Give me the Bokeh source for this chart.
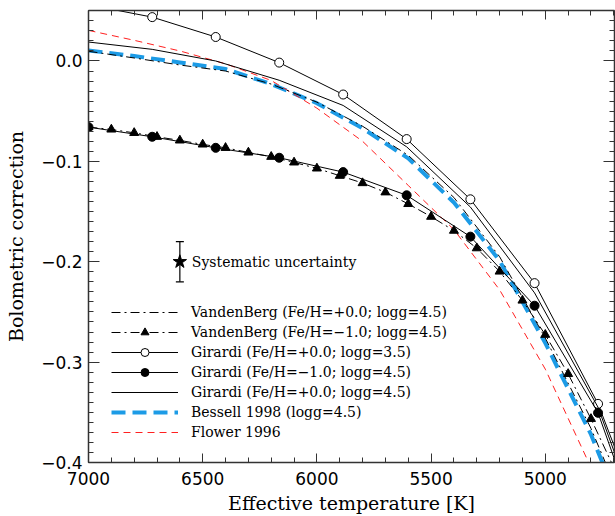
from bokeh.plotting import figure
from bokeh.models import (Range1d, FixedTicker, CustomJSTickFormatter, LinearAxis,
                          Legend, LegendItem, Whisker, TeeHead, ColumnDataSource)
from bokeh.core.properties import value
from bokeh.embed import file_html
from bokeh.resources import INLINE
import numpy as np

# ---------------- data ----------------
x_ticks = [7000, 6500, 6000, 5500, 5000]
x_tick_labels = ["7000", "6500", "6000", "5500", "5000"]
y_ticks = [-0.4, -0.3, -0.2, -0.1, 0.0]
y_tick_labels = ["\u22120.4", "\u22120.3", "\u22120.2", "\u22120.1", "0.0"]

# VandenBerg Fe/H=+0.0 logg=4.5
vdb0_teff = [7000, 6800, 6600, 6400, 6200, 6000, 5800, 5600, 5400, 5200, 5000, 4800, 4700]
vdb0_bc = [0.0097, 0.0030, -0.0040, -0.0100, -0.0230, -0.041, -0.065, -0.094, -0.136,
           -0.195, -0.276, -0.366, -0.420]

# VandenBerg Fe/H=-1.0 logg=4.5 (triangles every 100 K)
vdbm1_teff = [7000, 6900, 6800, 6700, 6600, 6500, 6400, 6300, 6200, 6100, 6000, 5900,
              5800, 5700, 5600, 5500, 5400, 5300, 5200, 5100, 5000, 4900, 4800, 4700]
vdbm1_bc = [-0.0659, -0.0682, -0.0716, -0.0755, -0.0791, -0.0831, -0.0865, -0.0911,
            -0.0954, -0.1010, -0.1070, -0.1143, -0.1216, -0.1308, -0.1424, -0.1551,
            -0.1690, -0.1865, -0.2097, -0.2386, -0.2727, -0.3117, -0.3565, -0.405]

# Girardi grids
gir_teff = [7000, 6721, 6443, 6165, 5885, 5607, 5328, 5047, 4769, 4490]
gir_p00_g35 = [0.056, 0.0437, 0.0239, -0.0016, -0.0334, -0.0778, -0.1378, -0.2213, -0.3416, -0.507]
gir_m10_g45 = [-0.0659, -0.0755, -0.0865, -0.0964, -0.1107, -0.1338, -0.1750, -0.2438, -0.3505, -0.530]
gir_p00_g45 = [0.0189, 0.0116, 0.0000, -0.0192, -0.0443, -0.0855, -0.1455, -0.2310, -0.3450, -0.520]

# Bessell 1998 logg=4.5
bes_teff = [7000, 6800, 6600, 6400, 6200, 6000, 5800, 5600, 5400, 5200, 5000, 4800, 4700]
bes_bc = [0.0105, 0.0050, -0.0015, -0.0080, -0.0230, -0.042, -0.067, -0.097, -0.141,
          -0.199, -0.281, -0.372, -0.428]

# Flower 1996
flo_teff = [7000, 6800, 6600, 6400, 6200, 6000, 5800, 5600, 5400, 5200, 5000, 4800, 4700]
flo_bc = [0.0305, 0.0206, 0.0100, -0.0028, -0.0194, -0.047, -0.080, -0.124, -0.168,
          -0.228, -0.307, -0.405, -0.460]

# systematic uncertainty marker
unc_teff = [6600]
unc_bc = [-0.2]
unc_err = [0.02]
unc_label = ["Systematic uncertainty"]

legend_labels = [
    "VandenBerg (Fe/H=+0.0; logg=4.5)",
    "VandenBerg (Fe/H=\u22121.0; logg=4.5)",
    "Girardi (Fe/H=+0.0; logg=3.5)",
    "Girardi (Fe/H=\u22121.0; logg=4.5)",
    "Girardi (Fe/H=+0.0; logg=4.5)",
    "Bessell 1998 (logg=4.5)",
    "Flower 1996",
]

# ---------------- figure ----------------
p = figure(width=615, height=516, x_range=Range1d(7000, 4697), y_range=Range1d(-0.4, 0.0503),
           output_backend="svg", toolbar_location=None,
           min_border_left=88, min_border_right=1, min_border_top=10, min_border_bottom=54)
p.outline_line_color = None
p.xgrid.visible = False
p.ygrid.visible = False
p.background_fill_color = "white"
p.border_fill_color = "white"

xticker = FixedTicker(ticks=x_ticks, minor_ticks=list(np.arange(4700, 7001, 100)))
yticker = FixedTicker(ticks=y_ticks, minor_ticks=list(np.round(np.arange(-0.40, 0.051, 0.01), 2)))
fmt_code = """
let k = -1;
for (let j = 0; j < tks.length; j++) { if (Math.abs(tks[j] - tick) < 1e-6) { k = j; } }
return k >= 0 ? lbls[k] : '';
"""
xfmt = CustomJSTickFormatter(args=dict(tks=x_ticks, lbls=x_tick_labels), code=fmt_code)
yfmt = CustomJSTickFormatter(args=dict(tks=y_ticks, lbls=y_tick_labels), code=fmt_code)

axis_color = "#333333"

def style_axis(ax, major_in, minor_in):
    ax.axis_line_color = axis_color
    ax.axis_line_width = 1.5
    ax.major_tick_line_color = axis_color
    ax.minor_tick_line_color = axis_color
    ax.major_tick_in = major_in
    ax.major_tick_out = 0
    ax.minor_tick_in = minor_in
    ax.minor_tick_out = 0
    ax.major_label_text_font = "DejaVu Sans"
    ax.major_label_text_font_size = "17px"
    ax.major_label_text_color = "black"
    ax.axis_label_text_font = "DejaVu Serif"
    ax.axis_label_text_font_size = "19px"
    ax.axis_label_text_font_style = "normal"
    ax.axis_label_text_color = "black"

xa = p.xaxis[0]
xa.ticker = xticker
xa.formatter = xfmt
style_axis(xa, 9, 5)
xa.major_label_standoff = 9
xa.axis_label = "Effective temperature [K]"
xa.axis_label_standoff = 4

ya = p.yaxis[0]
ya.ticker = yticker
ya.formatter = yfmt
style_axis(ya, 11, 5)
ya.major_label_standoff = 6
ya.axis_label = "Bolometric correction"
ya.axis_label_standoff = 11

top = LinearAxis(ticker=xticker, formatter=xfmt)
style_axis(top, 9, 5)
top.major_label_text_font_size = "0px"
top.major_label_text_color = None
top.major_label_standoff = 0
p.add_layout(top, "above")

right = LinearAxis(ticker=yticker, formatter=yfmt)
style_axis(right, 11, 5)
right.major_label_text_font_size = "0px"
right.major_label_text_color = None
right.major_label_standoff = 0
p.add_layout(right, "right")

dashdot = "9 4 2 4"

r_bes = p.line(bes_teff, bes_bc, line_color="#1c9be6", line_width=4, line_dash="14 7")
r_flo = p.line(flo_teff, flo_bc, line_color="#ff2020", line_width=1, line_dash="7 5")
r_vdb0 = p.line(vdb0_teff, vdb0_bc, line_color="black", line_width=1, line_dash=dashdot)
r_vdbm1 = p.line(vdbm1_teff, vdbm1_bc, line_color="black", line_width=1, line_dash=dashdot)
r_vdbm1_s = p.scatter(vdbm1_teff, vdbm1_bc, marker="triangle", size=9, fill_color="black", line_color="black")
r_g35 = p.line(gir_teff, gir_p00_g35, line_color="black", line_width=1)
r_g35_s = p.scatter(gir_teff, gir_p00_g35, marker="circle", size=9, fill_color="white", line_color="black")
r_gm10 = p.line(gir_teff, gir_m10_g45, line_color="black", line_width=1)
r_gm10_s = p.scatter(gir_teff, gir_m10_g45, marker="circle", size=9, fill_color="black", line_color="black")
r_g45 = p.line(gir_teff, gir_p00_g45, line_color="black", line_width=1)

# systematic uncertainty
unc_src = ColumnDataSource(dict(x=unc_teff, y=unc_bc,
                                lower=[b - e for b, e in zip(unc_bc, unc_err)],
                                upper=[b + e for b, e in zip(unc_bc, unc_err)],
                                label=unc_label))
p.add_layout(Whisker(source=unc_src, base="x", lower="lower", upper="upper", dimension="height",
                     line_color="black", line_width=1.2,
                     lower_head=TeeHead(size=8, line_color="black", line_width=1.2),
                     upper_head=TeeHead(size=8, line_color="black", line_width=1.2)))
p.scatter("x", "y", source=unc_src, marker="star", size=14, fill_color="black", line_color="black")
p.text("x", "y", text="label", source=unc_src, x_offset=12, text_baseline="middle",
       text_font=value("DejaVu Serif"), text_font_size="14px", text_color="black")

legend = Legend(items=[
    LegendItem(label=legend_labels[0], renderers=[r_vdb0]),
    LegendItem(label=legend_labels[1], renderers=[r_vdbm1, r_vdbm1_s]),
    LegendItem(label=legend_labels[2], renderers=[r_g35, r_g35_s]),
    LegendItem(label=legend_labels[3], renderers=[r_gm10, r_gm10_s]),
    LegendItem(label=legend_labels[4], renderers=[r_g45]),
    LegendItem(label=legend_labels[5], renderers=[r_bes]),
    LegendItem(label=legend_labels[6], renderers=[r_flo]),
], location=(23, 20), glyph_width=67, glyph_height=20, label_height=20, spacing=0,
   padding=0, margin=0, label_standoff=13, border_line_color=None, background_fill_alpha=0,
   label_text_font="DejaVu Serif", label_text_font_size="14px", label_text_color="black")
p.add_layout(legend)

open("out.html", "w").write(file_html(p, INLINE))
